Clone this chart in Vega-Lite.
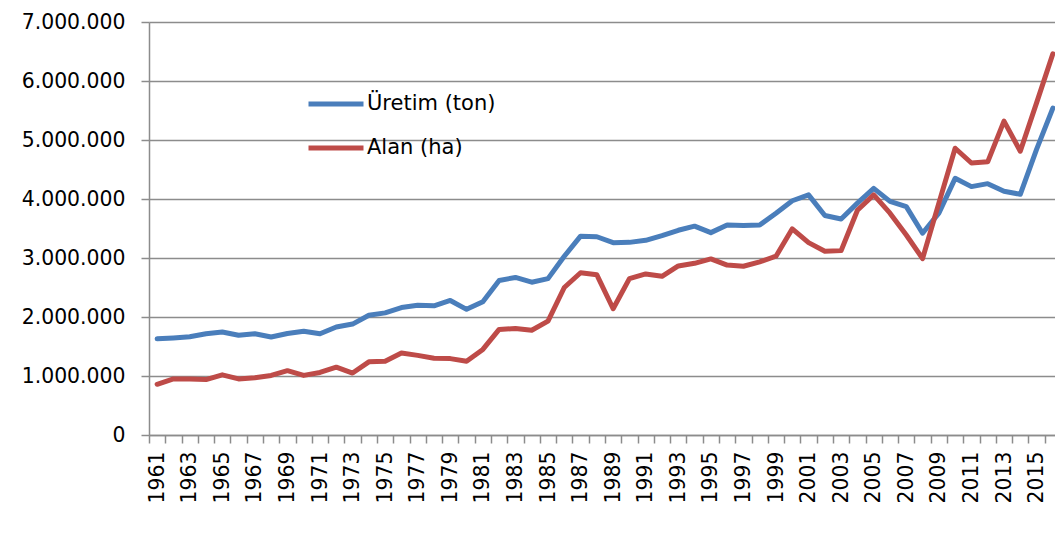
{
  "$schema": "https://vega.github.io/schema/vega-lite/v6.json",
  "width": 906,
  "height": 413,
  "autosize": {"type": "none"},
  "padding": {"left": 149, "top": 22, "right": 0, "bottom": 101},
  "background": "white",
  "config": {
    "locale": {"number": {"decimal": ",", "thousands": ".", "grouping": [3], "currency": ["", ""]}},
    "view": {"stroke": null},
    "font": "DejaVu Sans"
  },
  "data": {"values": [
    {"year":"1961","s":"Üretim (ton)","v":1630000},{"year":"1962","s":"Üretim (ton)","v":1645000},{"year":"1963","s":"Üretim (ton)","v":1665000},{"year":"1964","s":"Üretim (ton)","v":1715000},{"year":"1965","s":"Üretim (ton)","v":1745000},{"year":"1966","s":"Üretim (ton)","v":1690000},{"year":"1967","s":"Üretim (ton)","v":1715000},{"year":"1968","s":"Üretim (ton)","v":1660000},{"year":"1969","s":"Üretim (ton)","v":1720000},{"year":"1970","s":"Üretim (ton)","v":1760000},{"year":"1971","s":"Üretim (ton)","v":1715000},{"year":"1972","s":"Üretim (ton)","v":1830000},{"year":"1973","s":"Üretim (ton)","v":1880000},{"year":"1974","s":"Üretim (ton)","v":2030000},{"year":"1975","s":"Üretim (ton)","v":2070000},{"year":"1976","s":"Üretim (ton)","v":2160000},{"year":"1977","s":"Üretim (ton)","v":2200000},{"year":"1978","s":"Üretim (ton)","v":2190000},{"year":"1979","s":"Üretim (ton)","v":2280000},{"year":"1980","s":"Üretim (ton)","v":2130000},{"year":"1981","s":"Üretim (ton)","v":2260000},{"year":"1982","s":"Üretim (ton)","v":2620000},{"year":"1983","s":"Üretim (ton)","v":2670000},{"year":"1984","s":"Üretim (ton)","v":2590000},{"year":"1985","s":"Üretim (ton)","v":2650000},{"year":"1986","s":"Üretim (ton)","v":3030000},{"year":"1987","s":"Üretim (ton)","v":3370000},{"year":"1988","s":"Üretim (ton)","v":3360000},{"year":"1989","s":"Üretim (ton)","v":3260000},{"year":"1990","s":"Üretim (ton)","v":3265000},{"year":"1991","s":"Üretim (ton)","v":3300000},{"year":"1992","s":"Üretim (ton)","v":3380000},{"year":"1993","s":"Üretim (ton)","v":3470000},{"year":"1994","s":"Üretim (ton)","v":3540000},{"year":"1995","s":"Üretim (ton)","v":3430000},{"year":"1996","s":"Üretim (ton)","v":3560000},{"year":"1997","s":"Üretim (ton)","v":3550000},{"year":"1998","s":"Üretim (ton)","v":3560000},{"year":"1999","s":"Üretim (ton)","v":3760000},{"year":"2000","s":"Üretim (ton)","v":3970000},{"year":"2001","s":"Üretim (ton)","v":4070000},{"year":"2002","s":"Üretim (ton)","v":3720000},{"year":"2003","s":"Üretim (ton)","v":3660000},{"year":"2004","s":"Üretim (ton)","v":3930000},{"year":"2005","s":"Üretim (ton)","v":4180000},{"year":"2006","s":"Üretim (ton)","v":3960000},{"year":"2007","s":"Üretim (ton)","v":3870000},{"year":"2008","s":"Üretim (ton)","v":3420000},{"year":"2009","s":"Üretim (ton)","v":3760000},{"year":"2010","s":"Üretim (ton)","v":4350000},{"year":"2011","s":"Üretim (ton)","v":4210000},{"year":"2012","s":"Üretim (ton)","v":4260000},{"year":"2013","s":"Üretim (ton)","v":4130000},{"year":"2014","s":"Üretim (ton)","v":4080000},{"year":"2015","s":"Üretim (ton)","v":4840000},{"year":"2016","s":"Üretim (ton)","v":5540000},
    {"year":"1961","s":"Alan (ha)","v":860000},{"year":"1962","s":"Alan (ha)","v":950000},{"year":"1963","s":"Alan (ha)","v":950000},{"year":"1964","s":"Alan (ha)","v":940000},{"year":"1965","s":"Alan (ha)","v":1020000},{"year":"1966","s":"Alan (ha)","v":950000},{"year":"1967","s":"Alan (ha)","v":970000},{"year":"1968","s":"Alan (ha)","v":1010000},{"year":"1969","s":"Alan (ha)","v":1090000},{"year":"1970","s":"Alan (ha)","v":1010000},{"year":"1971","s":"Alan (ha)","v":1060000},{"year":"1972","s":"Alan (ha)","v":1150000},{"year":"1973","s":"Alan (ha)","v":1050000},{"year":"1974","s":"Alan (ha)","v":1240000},{"year":"1975","s":"Alan (ha)","v":1250000},{"year":"1976","s":"Alan (ha)","v":1390000},{"year":"1977","s":"Alan (ha)","v":1350000},{"year":"1978","s":"Alan (ha)","v":1300000},{"year":"1979","s":"Alan (ha)","v":1295000},{"year":"1980","s":"Alan (ha)","v":1250000},{"year":"1981","s":"Alan (ha)","v":1450000},{"year":"1982","s":"Alan (ha)","v":1790000},{"year":"1983","s":"Alan (ha)","v":1805000},{"year":"1984","s":"Alan (ha)","v":1775000},{"year":"1985","s":"Alan (ha)","v":1930000},{"year":"1986","s":"Alan (ha)","v":2500000},{"year":"1987","s":"Alan (ha)","v":2750000},{"year":"1988","s":"Alan (ha)","v":2715000},{"year":"1989","s":"Alan (ha)","v":2140000},{"year":"1990","s":"Alan (ha)","v":2650000},{"year":"1991","s":"Alan (ha)","v":2730000},{"year":"1992","s":"Alan (ha)","v":2690000},{"year":"1993","s":"Alan (ha)","v":2865000},{"year":"1994","s":"Alan (ha)","v":2910000},{"year":"1995","s":"Alan (ha)","v":2985000},{"year":"1996","s":"Alan (ha)","v":2880000},{"year":"1997","s":"Alan (ha)","v":2860000},{"year":"1998","s":"Alan (ha)","v":2935000},{"year":"1999","s":"Alan (ha)","v":3030000},{"year":"2000","s":"Alan (ha)","v":3495000},{"year":"2001","s":"Alan (ha)","v":3260000},{"year":"2002","s":"Alan (ha)","v":3115000},{"year":"2003","s":"Alan (ha)","v":3125000},{"year":"2004","s":"Alan (ha)","v":3810000},{"year":"2005","s":"Alan (ha)","v":4070000},{"year":"2006","s":"Alan (ha)","v":3760000},{"year":"2007","s":"Alan (ha)","v":3390000},{"year":"2008","s":"Alan (ha)","v":2990000},{"year":"2009","s":"Alan (ha)","v":3930000},{"year":"2010","s":"Alan (ha)","v":4860000},{"year":"2011","s":"Alan (ha)","v":4610000},{"year":"2012","s":"Alan (ha)","v":4630000},{"year":"2013","s":"Alan (ha)","v":5320000},{"year":"2014","s":"Alan (ha)","v":4810000},{"year":"2015","s":"Alan (ha)","v":5630000},{"year":"2016","s":"Alan (ha)","v":6460000}
  ]},
  "mark": {"type": "line", "strokeWidth": 5, "strokeJoin": "round", "strokeCap": "round"},
  "encoding": {
    "x": {
      "field": "year", "type": "ordinal", "sort": null,
      "scale": {"type": "band", "range": [0, 912], "paddingInner": 0, "paddingOuter": 0},
      "axis": {
        "title": null,
        "labelAngle": -90,
        "labelFont": "DejaVu Sans", "labelFontSize": 20.4, "labelColor": "#000000",
        "labelExpr": "toNumber(datum.label) % 2 == 1 ? datum.label : ''",
        "labelPadding": 8,
        "labelOverlap": false,
        "labelBound": false,
        "tickBand": "extent",
        "tickSize": 8, "tickColor": "#8c8c8c", "tickWidth": 1.5,
        "domainColor": "#8c8c8c", "domainWidth": 1.5,
        "grid": false
      }
    },
    "y": {
      "field": "v", "type": "quantitative",
      "scale": {"domain": [0, 7000000], "nice": false},
      "axis": {
        "title": null,
        "values": [0, 1000000, 2000000, 3000000, 4000000, 5000000, 6000000, 7000000],
        "format": ",d",
        "labelFont": "DejaVu Sans", "labelFontSize": 20.4, "labelColor": "#000000",
        "labelPadding": 16,
        "tickSize": 8, "tickColor": "#8c8c8c", "tickWidth": 1.5,
        "domainColor": "#8c8c8c", "domainWidth": 1.5,
        "grid": true, "gridColor": "#8c8c8c", "gridWidth": 1.5
      }
    },
    "color": {
      "field": "s", "type": "nominal",
      "scale": {"domain": ["Üretim (ton)", "Alan (ha)"], "range": ["#4A7EBB", "#BE4B48"]},
      "legend": {
        "title": null,
        "orient": "none",
        "legendX": 157,
        "legendY": 52,
        "padding": 0,
        "symbolType": "stroke",
        "symbolSize": 3025,
        "symbolStrokeWidth": 5,
        "labelFont": "DejaVu Sans", "labelFontSize": 21, "labelColor": "#000000",
        "labelOffset": 1,
        "rowPadding": 4
      }
    }
  }
}
